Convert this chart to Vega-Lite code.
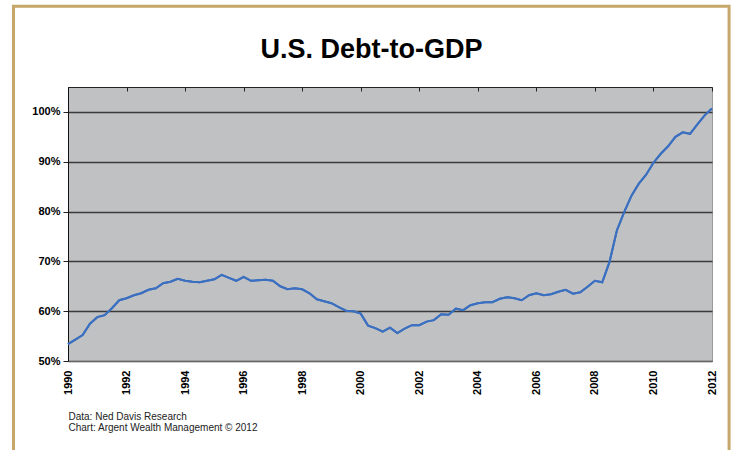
{
  "$schema": "https://vega.github.io/schema/vega-lite/v6.json",
  "width": 644,
  "height": 274,
  "autosize": {"type": "none"},
  "padding": {"left": 68, "top": 87, "right": 23, "bottom": 89},
  "background": "white",
  "title": {
    "text": "U.S. Debt-to-GDP",
    "font": "Liberation Sans",
    "fontSize": 27,
    "fontWeight": "bold",
    "color": "black",
    "anchor": "middle",
    "frame": "group",
    "dx": -18.5,
    "baseline": "alphabetic",
    "offset": -80
  },
  "config": {
    "view": {"fill": "#c0c1c3", "stroke": "#9a9a9a", "strokeWidth": 1},
    "font": "Liberation Sans"
  },
  "datasets": {
    "debt": [
      {"year": 1990.00, "ratio": 53.4}, {"year": 1990.25, "ratio": 54.3}, {"year": 1990.50, "ratio": 55.2}, {"year": 1990.75, "ratio": 57.5},
      {"year": 1991.00, "ratio": 58.8}, {"year": 1991.25, "ratio": 59.2}, {"year": 1991.50, "ratio": 60.6}, {"year": 1991.75, "ratio": 62.2},
      {"year": 1992.00, "ratio": 62.6}, {"year": 1992.25, "ratio": 63.2}, {"year": 1992.50, "ratio": 63.6}, {"year": 1992.75, "ratio": 64.3},
      {"year": 1993.00, "ratio": 64.6}, {"year": 1993.25, "ratio": 65.6}, {"year": 1993.50, "ratio": 65.9}, {"year": 1993.75, "ratio": 66.5},
      {"year": 1994.00, "ratio": 66.1}, {"year": 1994.25, "ratio": 65.9}, {"year": 1994.50, "ratio": 65.8}, {"year": 1994.75, "ratio": 66.1},
      {"year": 1995.00, "ratio": 66.4}, {"year": 1995.25, "ratio": 67.3}, {"year": 1995.50, "ratio": 66.7}, {"year": 1995.75, "ratio": 66.1},
      {"year": 1996.00, "ratio": 66.9}, {"year": 1996.25, "ratio": 66.1}, {"year": 1996.50, "ratio": 66.2}, {"year": 1996.75, "ratio": 66.3},
      {"year": 1997.00, "ratio": 66.1}, {"year": 1997.25, "ratio": 65.0}, {"year": 1997.50, "ratio": 64.4}, {"year": 1997.75, "ratio": 64.6},
      {"year": 1998.00, "ratio": 64.4}, {"year": 1998.25, "ratio": 63.6}, {"year": 1998.50, "ratio": 62.4}, {"year": 1998.75, "ratio": 62.0},
      {"year": 1999.00, "ratio": 61.6}, {"year": 1999.25, "ratio": 60.8}, {"year": 1999.50, "ratio": 60.1}, {"year": 1999.75, "ratio": 60.0},
      {"year": 2000.00, "ratio": 59.5}, {"year": 2000.25, "ratio": 57.1}, {"year": 2000.50, "ratio": 56.6}, {"year": 2000.75, "ratio": 55.9},
      {"year": 2001.00, "ratio": 56.7}, {"year": 2001.25, "ratio": 55.6}, {"year": 2001.50, "ratio": 56.5}, {"year": 2001.75, "ratio": 57.2},
      {"year": 2002.00, "ratio": 57.2}, {"year": 2002.25, "ratio": 57.9}, {"year": 2002.50, "ratio": 58.2}, {"year": 2002.75, "ratio": 59.4},
      {"year": 2003.00, "ratio": 59.3}, {"year": 2003.25, "ratio": 60.5}, {"year": 2003.50, "ratio": 60.2}, {"year": 2003.75, "ratio": 61.2},
      {"year": 2004.00, "ratio": 61.6}, {"year": 2004.25, "ratio": 61.8}, {"year": 2004.50, "ratio": 61.8}, {"year": 2004.75, "ratio": 62.5},
      {"year": 2005.00, "ratio": 62.8}, {"year": 2005.25, "ratio": 62.6}, {"year": 2005.50, "ratio": 62.2}, {"year": 2005.75, "ratio": 63.2},
      {"year": 2006.00, "ratio": 63.6}, {"year": 2006.25, "ratio": 63.2}, {"year": 2006.50, "ratio": 63.4}, {"year": 2006.75, "ratio": 63.9},
      {"year": 2007.00, "ratio": 64.3}, {"year": 2007.25, "ratio": 63.5}, {"year": 2007.50, "ratio": 63.8}, {"year": 2007.75, "ratio": 64.9},
      {"year": 2008.00, "ratio": 66.1}, {"year": 2008.25, "ratio": 65.8}, {"year": 2008.50, "ratio": 69.9}, {"year": 2008.75, "ratio": 76.2},
      {"year": 2009.00, "ratio": 79.9}, {"year": 2009.25, "ratio": 83.2}, {"year": 2009.50, "ratio": 85.6}, {"year": 2009.75, "ratio": 87.4},
      {"year": 2010.00, "ratio": 89.8}, {"year": 2010.25, "ratio": 91.6}, {"year": 2010.50, "ratio": 93.1}, {"year": 2010.75, "ratio": 95.0},
      {"year": 2011.00, "ratio": 95.9}, {"year": 2011.25, "ratio": 95.6}, {"year": 2011.50, "ratio": 97.5}, {"year": 2011.75, "ratio": 99.3},
      {"year": 2012.00, "ratio": 100.7}
    ],
    "frame": [{"label": "frame"}]
  },
  "resolve": {"axis": {"x": "independent", "y": "independent"}},
  "layer": [
    {
      "data": {"name": "frame"},
      "mark": {"type": "rect", "filled": false, "stroke": "#c6a76b", "strokeWidth": 3},
      "encoding": {
        "x": {"datum": 1988.138, "type": "quantitative", "scale": {"domain": [1990, 2012], "nice": false, "zero": false}, "axis": null},
        "x2": {"datum": 2012.583},
        "y": {"datum": 121.2, "type": "quantitative", "scale": {"domain": [50, 105], "nice": false, "zero": false}, "axis": null},
        "y2": {"datum": 30}
      }
    },
    {
      "data": {"name": "debt"},
      "mark": {"type": "line", "color": "#3b6fc0", "strokeWidth": 2},
      "encoding": {
        "x": {
          "field": "year", "type": "quantitative",
          "scale": {"domain": [1990, 2012], "nice": false, "zero": false},
          "axis": {
            "orient": "bottom",
            "values": [1990, 1992, 1994, 1996, 1998, 2000, 2002, 2004, 2006, 2008, 2010, 2012],
            "format": "d",
            "labelAngle": 270,
            "labelFont": "Liberation Sans",
            "labelFontSize": 11,
            "labelFontWeight": "bold",
            "labelColor": "black",
            "labelPadding": 9,
            "labelOverlap": false,
            "labelFlush": false,
            "ticks": false,
            "domainColor": "#666666",
            "grid": false,
            "title": ["Data: Ned Davis Research", "Chart: Argent Wealth Management © 2012"],
            "titleFont": "Liberation Sans",
            "titleFontSize": 10,
            "titleFontWeight": "normal",
            "titleColor": "#222222",
            "titleX": 0,
            "titleY": 58,
            "titleAlign": "left",
            "titleAnchor": "start",
            "titleBaseline": "alphabetic",
            "titleLineHeight": 11.7
          }
        },
        "y": {
          "field": "ratio", "type": "quantitative",
          "scale": {"domain": [50, 105], "nice": false, "zero": false},
          "axis": {
            "orient": "left",
            "values": [50, 60, 70, 80, 90, 100],
            "labelExpr": "datum.value + '%'",
            "labelFont": "Liberation Sans",
            "labelFontSize": 11,
            "labelFontWeight": "bold",
            "labelColor": "black",
            "labelPadding": 3,
            "tickSize": 5,
            "tickColor": "#222222",
            "domainColor": "#111111",
            "grid": true,
            "gridColor": "#3a3a3a",
            "gridWidth": 1.5,
            "title": null
          }
        }
      }
    },
    {
      "data": {"name": "debt"},
      "mark": {"type": "line", "color": "#3b6fc0", "strokeWidth": 2},
      "encoding": {
        "x": {
          "field": "year", "type": "quantitative",
          "scale": {"domain": [1990, 2012], "nice": false, "zero": false},
          "axis": {
            "orient": "top",
            "values": [1990, 1992, 1994, 1996, 1998, 2000, 2002, 2004, 2006, 2008, 2010, 2012],
            "labels": false,
            "ticks": true,
            "tickSize": -4,
            "tickColor": "#222222",
            "domainColor": "#222222",
            "grid": false,
            "title": null
          }
        },
        "y": {"field": "ratio", "type": "quantitative", "scale": {"domain": [50, 105], "nice": false, "zero": false}, "axis": null}
      }
    }
  ]
}
